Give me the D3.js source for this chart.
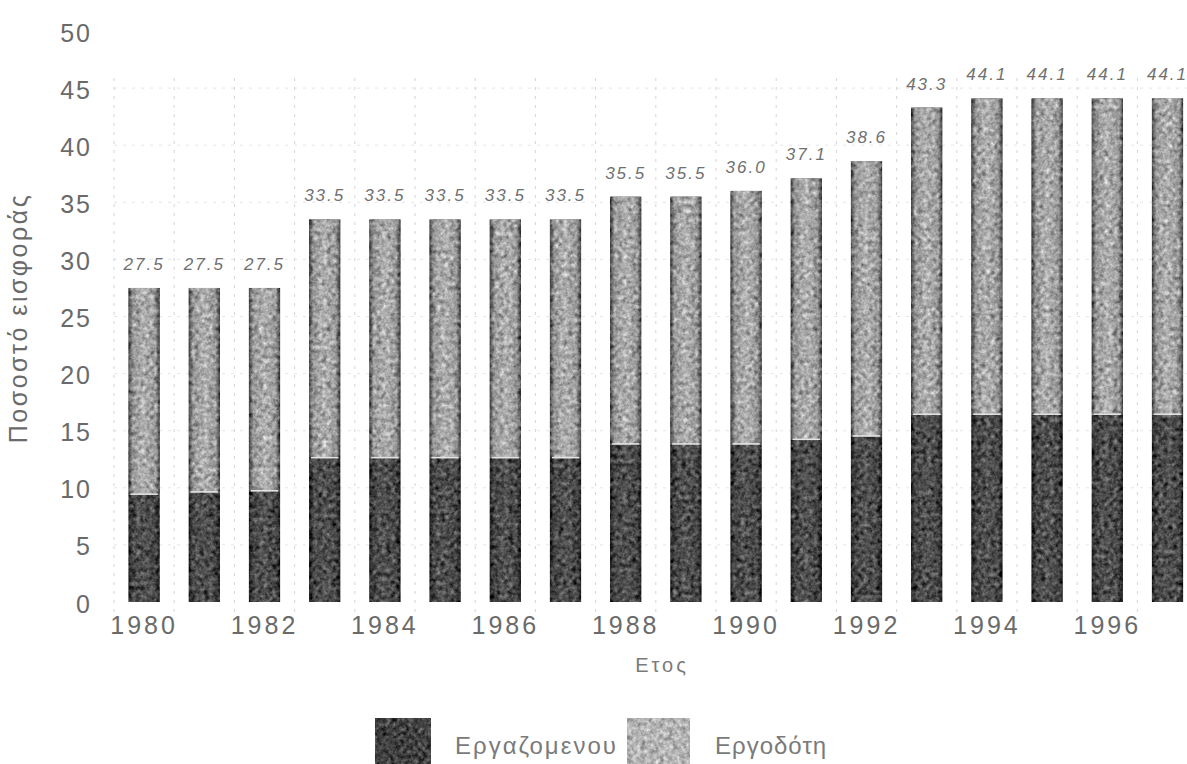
<!DOCTYPE html>
<html>
<head>
<meta charset="utf-8">
<script src="https://cdn.jsdelivr.net/npm/d3@7"></script>
<style>
  html, body { margin: 0; padding: 0; background: #fff; }
  svg { display: block; }
  text { font-family: "Liberation Sans", Arial, sans-serif; }
</style>
</head>
<body>
<svg id="chart" width="1187" height="764"></svg>
<script>
// Contribution rates by year (% of earnings)
const years = [1980, 1981, 1982, 1983, 1984, 1985, 1986, 1987, 1988,
               1989, 1990, 1991, 1992, 1993, 1994, 1995, 1996, 1997];
const employee = [9.4, 9.6, 9.7, 12.6, 12.6, 12.6, 12.6, 12.6, 13.8,
                  13.8, 13.8, 14.2, 14.5, 16.4, 16.4, 16.4, 16.4, 16.4];
const employer = [18.1, 17.9, 17.8, 20.9, 20.9, 20.9, 20.9, 20.9, 21.7,
                  21.7, 22.2, 22.9, 24.1, 26.9, 27.7, 27.7, 27.7, 27.7];
const yTicks = [0, 5, 10, 15, 20, 25, 30, 35, 40, 45, 50];
const xTickYears = [1980, 1982, 1984, 1986, 1988, 1990, 1992, 1994, 1996];
const seriesNames = ["Εργαζομενου", "Εργοδότη"];
const yTitle = "Ποσοστό εισφοράς";
const xTitle = "Ετος";

const rows = years.map((yr, i) => ({ year: yr, employee: employee[i], employer: employer[i] }));

const svg = d3.select("#chart");
const defs = svg.append("defs");

// Mottled grain for the bar fills
const grain = defs.append("filter").attr("id", "grain")
  .attr("x", "0").attr("y", "0").attr("width", "1").attr("height", "1")
  .attr("color-interpolation-filters", "sRGB");
grain.append("feTurbulence").attr("type", "fractalNoise").attr("baseFrequency", "0.22")
  .attr("numOctaves", 3).attr("seed", 7).attr("result", "noise");
grain.append("feColorMatrix").attr("in", "noise").attr("type", "matrix")
  .attr("values", "0.34 0.33 0.33 0 0  0.34 0.33 0.33 0 0  0.34 0.33 0.33 0 0  0 0 0 0 1")
  .attr("result", "gn");
grain.append("feComposite").attr("in", "SourceGraphic").attr("in2", "gn").attr("operator", "arithmetic")
  .attr("k1", 0).attr("k2", 1).attr("k3", 1.1).attr("k4", -0.55).attr("result", "mix");
grain.append("feComposite").attr("in", "mix").attr("in2", "SourceGraphic").attr("operator", "in");

function shade(id, edge, mid, centre) {
  const g = defs.append("linearGradient").attr("id", id).attr("x1", 0).attr("x2", 1).attr("y1", 0).attr("y2", 0);
  [[0, edge], [0.14, mid], [0.5, centre], [0.86, mid], [1, edge]].forEach(([o, c]) =>
    g.append("stop").attr("offset", o).attr("stop-color", c));
}
shade("darkFill", "#202020", "#464646", "#525252");
shade("lightFill", "#404040", "#989898", "#b0b0b0");

const x = d3.scaleBand().domain(years).range([114, 114 + 18 * 60.2])
  .paddingInner(0.48).paddingOuter(0.24);
const y = d3.scaleLinear().domain([0, 50]).range([602, 31]);

// Faint dashed grid
const grid = svg.append("g").attr("stroke", "#d4d4dc").attr("stroke-width", 1)
  .attr("stroke-dasharray", "3,6").attr("fill", "none");
grid.selectAll("line.h").data(yTicks.filter(t => t > 0 && t < 50)).join("line")
  .attr("x1", 114).attr("x2", 1187).attr("y1", d => y(d)).attr("y2", d => y(d)).attr("opacity", 0.6);
grid.selectAll("line.v").data(years).join("line")
  .attr("x1", d => x(d) - x.step() * 0.24).attr("x2", d => x(d) - x.step() * 0.24)
  .attr("y1", y(0) + 10).attr("y2", y(46));

// Stacked bars
const bars = svg.append("g").attr("filter", "url(#grain)");
bars.selectAll("rect.emp").data(rows).join("rect")
  .attr("x", d => x(d.year)).attr("width", x.bandwidth())
  .attr("y", d => y(d.employee)).attr("height", d => y(0) - y(d.employee))
  .attr("fill", "url(#darkFill)");
bars.selectAll("rect.er").data(rows).join("rect")
  .attr("x", d => x(d.year)).attr("width", x.bandwidth())
  .attr("y", d => y(d.employee + d.employer))
  .attr("height", d => y(d.employee) - y(d.employee + d.employer))
  .attr("fill", "url(#lightFill)");

// Thin pale seam between the two parts
svg.append("g").selectAll("line").data(rows).join("line")
  .attr("x1", d => x(d.year) + 2).attr("x2", d => x(d.year) + x.bandwidth() - 2)
  .attr("y1", d => y(d.employee) - 0.5).attr("y2", d => y(d.employee) - 0.5)
  .attr("stroke", "#e4e4e4").attr("stroke-width", 1.5);

// Total labels above bars
svg.append("g").selectAll("text").data(rows).join("text")
  .attr("x", d => x(d.year) + x.bandwidth() / 2)
  .attr("y", d => y(d.employee + d.employer) - 18)
  .attr("text-anchor", "middle")
  .attr("font-size", 17).attr("font-style", "italic").attr("letter-spacing", 2)
  .attr("fill", "#707070")
  .text(d => (d.employee + d.employer).toFixed(1));

// Y axis (labels only)
const yAxis = svg.append("g").attr("transform", "translate(92,0)")
  .call(d3.axisLeft(y).tickValues(yTicks).tickSize(0).tickPadding(0));
yAxis.select(".domain").remove();
yAxis.selectAll("text").attr("font-size", 25).attr("fill", "#6a6a6a")
  .attr("letter-spacing", 2).attr("font-family", "Liberation Sans, Arial, sans-serif")
  .attr("dy", "0.4em");

// X axis (labels every other year)
const xAxis = svg.append("g").attr("transform", `translate(0,${y(0)})`)
  .call(d3.axisBottom(x).tickValues(xTickYears).tickSize(0).tickPadding(14));
xAxis.select(".domain").remove();
xAxis.selectAll("text").attr("font-size", 25).attr("fill", "#6a6a6a")
  .attr("letter-spacing", 3).attr("font-family", "Liberation Sans, Arial, sans-serif");

// Axis titles
svg.append("text").attr("transform", "translate(27,318) rotate(-90)")
  .attr("text-anchor", "middle").attr("font-size", 25).attr("letter-spacing", 2.5)
  .attr("fill", "#6a6a6a").text(yTitle);
svg.append("text").attr("x", 662).attr("y", 672).attr("text-anchor", "middle")
  .attr("font-size", 20).attr("letter-spacing", 3).attr("fill", "#7a7a7a").text(xTitle);

// Legend
const legend = svg.append("g");
const legendItems = [
  { name: seriesNames[0], fill: "#404040", sx: 375, sw: 56, tx: 455, ls: 2 },
  { name: seriesNames[1], fill: "#b4b4b4", sx: 627, sw: 63, tx: 715, ls: 1 }
];
legend.selectAll("rect").data(legendItems).join("rect")
  .attr("x", d => d.sx).attr("y", 718).attr("width", d => d.sw).attr("height", 46)
  .attr("fill", d => d.fill).attr("filter", "url(#grain)");
legend.selectAll("text").data(legendItems).join("text")
  .attr("x", d => d.tx).attr("y", 754)
  .attr("font-size", 24).attr("letter-spacing", d => d.ls).attr("fill", "#7a7a7a")
  .text(d => d.name);
</script>
</body>
</html>
